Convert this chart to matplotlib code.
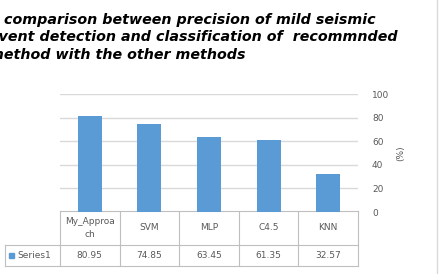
import numpy as np
import matplotlib
matplotlib.use("Agg")
import matplotlib.pyplot as plt
from matplotlib.lines import Line2D
from matplotlib.patches import Rectangle

# data
categories = ["My_Approach", "SVM", "MLP", "C4.5", "KNN"]
cat_labels = ["My_Approa\nch", "SVM", "MLP", "C4.5", "KNN"]
values = [80.95, 74.85, 63.45, 61.35, 32.57]
value_labels = ["80.95", "74.85", "63.45", "61.35", "32.57"]
yticks = [0, 20, 40, 60, 80, 100]
series_name = "Series1"

bar_color = "#5B9BD5"
grid_color = "#D9D9D9"
txt_color = "#595959"
line_color = "#BFBFBF"

fig = plt.figure(figsize=(4.41, 2.74), dpi=100)
W, H = 441, 274

# plot area in pixel coords
x0, x1 = 60, 358
y_top, y_bot = 94, 212
ax = fig.add_axes([x0 / W, 1 - y_bot / H, (x1 - x0) / W, (y_bot - y_top) / H])

n = len(values)
xs = np.arange(n)
ax.bar(xs, values, width=0.4, color=bar_color, zorder=3)
ax.set_xlim(-0.5, n - 0.5)
ax.set_ylim(0, 100)
ax.set_yticks(yticks)
ax.yaxis.tick_right()
ax.tick_params(axis="y", length=0, labelsize=6.5, labelcolor=txt_color, pad=10)
ax.set_xticks([])
ax.grid(axis="y", color=grid_color, linewidth=1, zorder=0)
for s in ax.spines.values():
    s.set_visible(False)
ax.yaxis.set_label_position("right")
ax.set_ylabel("(%)", fontsize=6.5, color=txt_color, labelpad=5)

# data table below the axes (axes coords)
def ay(p):
    return (y_bot - p) / (y_bot - y_top)

def ax_x(p):
    return (p - x0) / (x1 - x0)

t_top, t_mid, t_bot = ay(211), ay(245), ay(266)
leg_left = ax_x(5)
kw = dict(transform=ax.transAxes, color=line_color, linewidth=0.8, clip_on=False)
ax.add_line(Line2D([0, 1], [t_top, t_top], **kw))
ax.add_line(Line2D([leg_left, 1], [t_mid, t_mid], **kw))
ax.add_line(Line2D([leg_left, 1], [t_bot, t_bot], **kw))
ax.add_line(Line2D([leg_left, leg_left], [t_mid, t_bot], **kw))
for i in range(n + 1):
    xx = i / n
    ax.add_line(Line2D([xx, xx], [t_top, t_bot], **kw))

for i in range(n):
    cx = (i + 0.5) / n
    ax.text(cx, (t_top + t_mid) / 2, cat_labels[i], transform=ax.transAxes,
            ha="center", va="center", fontsize=6.5, color=txt_color,
            linespacing=1.6)
    ax.text(cx, (t_mid + t_bot) / 2, value_labels[i], transform=ax.transAxes,
            ha="center", va="center", fontsize=6.5, color=txt_color)

# legend key in row header
ax.add_patch(Rectangle((ax_x(9), (t_mid + t_bot) / 2 - 0.025), 0.018, 0.05,
                       transform=ax.transAxes, color=bar_color, clip_on=False))
ax.text(ax_x(17), (t_mid + t_bot) / 2, series_name, transform=ax.transAxes,
        ha="left", va="center", fontsize=6.5, color=txt_color)

# title (left part is cut off by the figure edge, as in the original)
title = ("A comparison between precision of mild seismic\n"
         "event detection and classification of  recommnded\n"
         "method with the other methods")
fig.text(-11 / W, 1 - 13 / H, title, ha="left", va="top", fontsize=10.3,
         fontweight="bold", fontstyle="italic", color="black", linespacing=1.3)

# chart frame right edge
fig.add_artist(Line2D([437 / W, 437 / W], [0, 1], transform=fig.transFigure,
                      color="#D9D9D9", linewidth=1))

fig.savefig("out.png", dpi=100)
